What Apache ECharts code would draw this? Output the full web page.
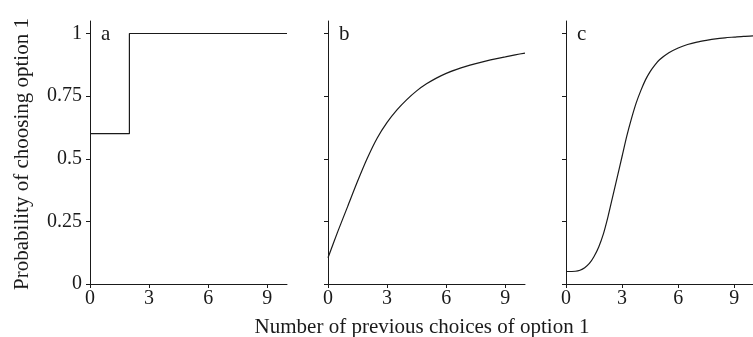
<!DOCTYPE html>
<html>
<head>
<meta charset="utf-8">
<script src="https://cdn.jsdelivr.net/npm/echarts@6/dist/echarts.min.js"></script>
<style>
  html, body { margin: 0; padding: 0; background: #fff; }
  #chart { width: 753px; height: 337px; }
</style>
</head>
<body>
<div id="chart"></div>
<script>
// Panel a: threshold rule (step at x = 2)
const stepX = [0, 2, 10];
const stepY = [0.6, 1, 1];

// Panel b: concave rise
const curveBX = [0, 0.5, 1, 1.5, 2, 2.5, 3, 3.5, 4, 4.5, 5, 5.5, 6, 6.5, 7, 7.5, 8, 8.5, 9, 9.5, 10];
const curveBY = [0.105, 0.21, 0.31, 0.41, 0.503, 0.583, 0.645, 0.695, 0.736, 0.771, 0.799, 0.822, 0.841, 0.856, 0.869, 0.88, 0.89, 0.899, 0.907, 0.915, 0.922];

// Panel c: sigmoid rise
const curveCX = [0, 0.5, 0.75, 1, 1.25, 1.5, 1.75, 2, 2.25, 2.5, 2.75, 3, 3.25, 3.5, 3.75, 4, 4.25, 4.5, 4.75, 5, 5.5, 6, 6.5, 7, 7.5, 8, 8.5, 9, 9.5, 10];
const curveCY = [0.05, 0.051, 0.055, 0.065, 0.082, 0.11, 0.148, 0.2, 0.27, 0.35, 0.43, 0.51, 0.59, 0.66, 0.722, 0.772, 0.815, 0.848, 0.874, 0.895, 0.923, 0.942, 0.956, 0.966, 0.973, 0.979, 0.983, 0.986, 0.989, 0.991];

// Axis ticks
const xTicks = [0, 3, 6, 9];
const yTicks = [0, 0.25, 0.5, 0.75, 1];
const panelLabels = ['a', 'b', 'c'];

const FONT = 'Liberation Serif';
const INK = '#1a1a1a';
const gridLefts = [90, 328, 566];

function zip(xs, ys) { return xs.map((x, i) => [x, ys[i]]); }

const grids = gridLefts.map(l => ({ left: l, width: 197, top: 21, bottom: 53 }));

const xAxes = gridLefts.map((_, i) => ({
  type: 'value', gridIndex: i, min: 0, max: 10,
  axisLine: { show: true, lineStyle: { color: INK, width: 1 } },
  axisTick: { show: true, customValues: xTicks, length: 4, lineStyle: { color: INK } },
  axisLabel: { customValues: xTicks, color: INK, fontFamily: FONT, fontSize: 20, margin: 5 },
  splitLine: { show: false }
}));

const yAxes = gridLefts.map((_, i) => ({
  type: 'value', gridIndex: i, min: 0, max: 1.05,
  axisLine: { show: true, lineStyle: { color: INK, width: 1 } },
  axisTick: { show: true, customValues: yTicks, length: 4, lineStyle: { color: INK } },
  axisLabel: { show: i === 0, customValues: yTicks, color: INK, fontFamily: FONT, fontSize: 20, margin: 8 },
  splitLine: { show: false }
}));

const lineStyle = { color: INK, width: 1.2 };

const series = [
  { type: 'line', xAxisIndex: 0, yAxisIndex: 0, data: zip(stepX, stepY), step: 'end',
    showSymbol: false, lineStyle },
  { type: 'line', xAxisIndex: 1, yAxisIndex: 1, data: zip(curveBX, curveBY),
    smooth: 0.25, showSymbol: false, lineStyle },
  { type: 'line', xAxisIndex: 2, yAxisIndex: 2, data: zip(curveCX, curveCY),
    smooth: 0.25, showSymbol: false, lineStyle }
];

const graphic = [
  ...panelLabels.map((t, i) => ({
    type: 'text', left: gridLefts[i] + 11, top: 24,
    style: { text: t, font: '21px "' + FONT + '"', fill: INK }
  })),
  {
    type: 'text', x: 22, y: 154, rotation: Math.PI / 2,
    style: { text: 'Probability of choosing option 1', font: '21px "' + FONT + '"',
      fill: INK, align: 'center', verticalAlign: 'middle' }
  },
  {
    type: 'text', x: 422, y: 327,
    style: { text: 'Number of previous choices of option 1', font: '21px "' + FONT + '"',
      fill: INK, align: 'center', verticalAlign: 'middle' }
  }
];

const chart = echarts.init(document.getElementById('chart'), null, { renderer: 'canvas' });
chart.setOption({
  animation: false,
  backgroundColor: '#fff',
  grid: grids,
  xAxis: xAxes,
  yAxis: yAxes,
  series,
  graphic
});
</script>
</body>
</html>
